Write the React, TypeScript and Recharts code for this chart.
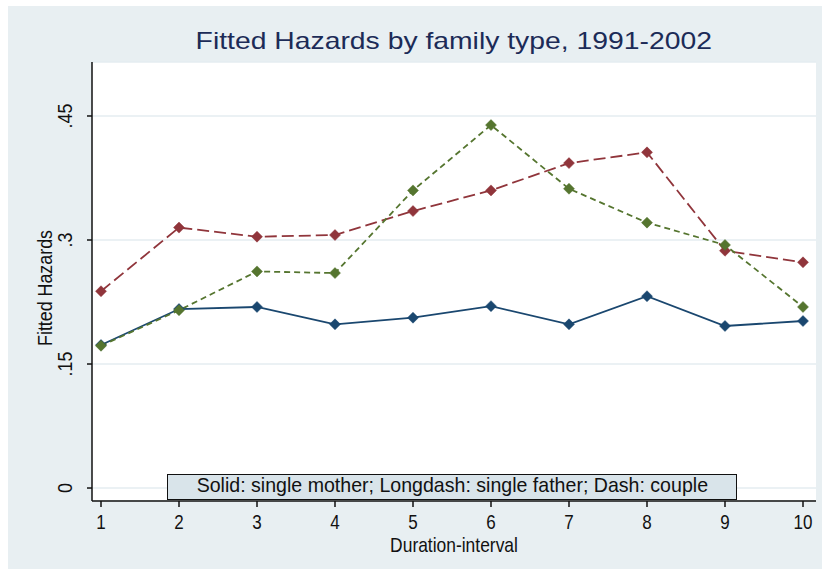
import React from 'react';
import { LineChart, Line, XAxis, YAxis, CartesianGrid } from 'recharts';

const durations = [1, 2, 3, 4, 5, 6, 7, 8, 9, 10];
const singleMother = [0.173, 0.2165, 0.219, 0.198, 0.206, 0.22, 0.198, 0.232, 0.196, 0.202];
const singleFather = [0.238, 0.315, 0.304, 0.306, 0.335, 0.36, 0.393, 0.406, 0.287, 0.273];
const couple = [0.172, 0.215, 0.262, 0.26, 0.36, 0.439, 0.362, 0.321, 0.294, 0.219];
const yTicks = [0, 0.15, 0.3, 0.45];
const yTickLabels = ['0', '.15', '.3', '.45'];

const data = durations.map((d, i) => ({
  duration: d,
  mother: singleMother[i],
  father: singleFather[i],
  couple: couple[i],
}));

const FONT = '"Liberation Sans", Arial, sans-serif';
const BG = '#e8eff2';
// stata's font is a bit narrower than arial
const SQUEEZE = 0.85;

const Diamond = (color: string) => (props: any) => {
  const { cx, cy } = props;
  if (cx == null || cy == null) return null;
  const r = 5.5;
  return (
    <path
      d={`M${cx},${cy - r} L${cx + r},${cy} L${cx},${cy + r} L${cx - r},${cy} Z`}
      fill={color}
      stroke={color}
      strokeWidth={0.5}
    />
  );
};

const NarrowText = ({ x, y, rotate = 0, dy, size = 21, children }: any) => (
  <g transform={`translate(${x},${y}) rotate(${rotate}) scale(${SQUEEZE},1)`}>
    <text x={0} y={0} dy={dy} textAnchor="middle" fontSize={size} fontFamily={FONT} fill="#111">
      {children}
    </text>
  </g>
);

const YTick = (props: any) => {
  const { x, y, payload } = props;
  const idx = yTicks.indexOf(payload.value);
  return (
    <NarrowText x={x} y={y} rotate={-90}>
      {idx >= 0 ? yTickLabels[idx] : payload.value}
    </NarrowText>
  );
};

const XTick = (props: any) => {
  const { x, y, payload } = props;
  return (
    <NarrowText x={x} y={y} dy="0.71em" size={20}>
      {payload.value}
    </NarrowText>
  );
};

export default function App() {
  return (
    <div style={{ position: 'absolute', left: 8, top: 6, width: 814, height: 563, background: BG }}>
      <style>{'body{margin:0}'}</style>
      <div
        style={{
          position: 'absolute',
          left: 84,
          width: 724,
          top: 21,
          textAlign: 'center',
          fontFamily: FONT,
          fontSize: 24,
          color: '#1c2b57',
          lineHeight: '28px',
        }}
      >
        <span style={{ display: 'inline-block', transform: 'scaleX(1.18)' }}>
          Fitted Hazards by family type, 1991-2002
        </span>
      </div>
      <LineChart
        width={814}
        height={563}
        data={data}
        margin={{ top: 56, right: 6, left: 0, bottom: 0 }}
        style={{ position: 'absolute', left: 0, top: 0 }}
      >
        <CartesianGrid vertical={false} stroke="#e4edf0" strokeWidth={1.5} fill="#ffffff" />
        <XAxis
          dataKey="duration"
          type="number"
          domain={[0.8846, 10.1667]}
          ticks={durations}
          allowDataOverflow
          height={68}
          tickSize={6}
          tickMargin={8}
          axisLine={{ stroke: '#111', strokeWidth: 1.5 }}
          tickLine={{ stroke: '#111', strokeWidth: 1.5 }}
          tick={<XTick />}
          label={{
            content: () => (
              <NarrowText x={446} y={546} size={20.5}>
                Duration-interval
              </NarrowText>
            ),
          }}
        />
        <YAxis
          type="number"
          domain={[-0.0157, 0.5153]}
          ticks={yTicks}
          allowDataOverflow
          width={84}
          tickSize={5}
          tickMargin={15}
          axisLine={{ stroke: '#111', strokeWidth: 1.5 }}
          tickLine={{ stroke: '#111', strokeWidth: 1.5 }}
          tick={<YTick />}
          label={{
            content: () => (
              <NarrowText x={44} y={282} rotate={-90}>
                Fitted Hazards
              </NarrowText>
            ),
          }}
        />
        <Line
          dataKey="mother"
          stroke="#1a476f"
          strokeWidth={1.8}
          dot={Diamond('#1a476f')}
          activeDot={false}
          isAnimationActive={false}
        />
        <Line
          dataKey="father"
          stroke="#90353b"
          strokeWidth={1.8}
          strokeDasharray="12 5"
          dot={Diamond('#90353b')}
          activeDot={false}
          isAnimationActive={false}
        />
        <Line
          dataKey="couple"
          stroke="#55752f"
          strokeWidth={1.8}
          strokeDasharray="6 4"
          dot={Diamond('#55752f')}
          activeDot={false}
          isAnimationActive={false}
        />
      </LineChart>
      <div
        style={{
          position: 'absolute',
          left: 159,
          top: 468,
          width: 570,
          height: 26,
          boxSizing: 'border-box',
          border: '1.5px solid #111',
          background: '#d9e4ea',
          fontFamily: FONT,
          fontSize: 21,
          lineHeight: '19px',
          textAlign: 'center',
          color: '#111',
          whiteSpace: 'nowrap',
        }}
      >
        <span style={{ display: 'inline-block', transform: 'scaleX(0.932)' }}>
          Solid: single mother; Longdash: single father; Dash: couple
        </span>
      </div>
    </div>
  );
}
